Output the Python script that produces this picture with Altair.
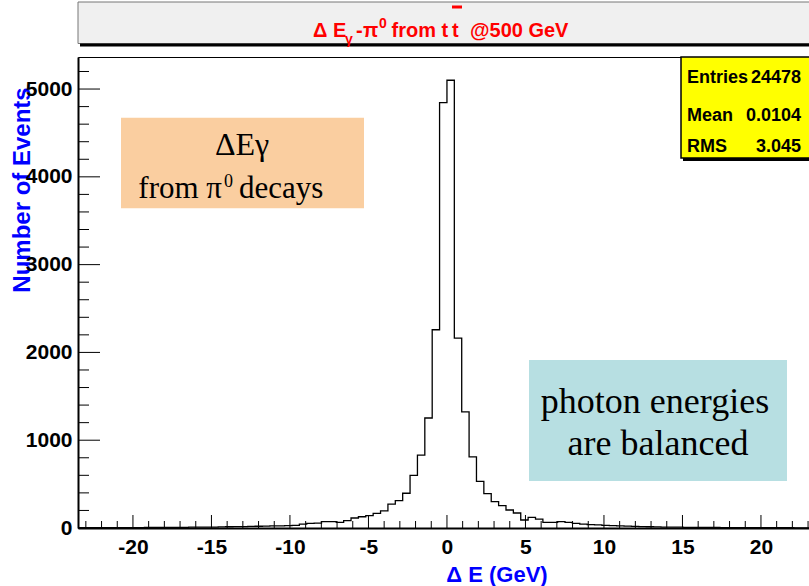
import altair as alt
import pandas as pd

# ---------------- data ----------------
x_range = [-23.5, 23.5]
n_bins = 100
counts_left = [3, 3, 3, 4, 4, 4, 5, 5, 5, 6, 6, 7, 7, 8, 8, 9, 10, 10, 11, 12, 14, 15, 16, 18, 20, 22, 24, 25,
               27, 30, 45, 53, 55, 72, 72, 64, 83, 114, 128, 140, 166, 195, 273, 311, 396, 600, 830, 1253, 2258, 4845]
counts_right = [5100, 2163, 1322, 810, 532, 392, 300, 254, 205, 171, 91, 121, 102, 64, 64, 72, 64, 53, 45, 38,
                36, 30, 27, 24, 21, 18, 16, 14, 12, 11, 10, 9, 8, 8, 7, 6, 6, 5, 5, 5, 4, 4, 4, 3, 3, 3, 3, 2, 2, 2]
counts = counts_left + counts_right

x_major_ticks = [-20, -15, -10, -5, 0, 5, 10, 15, 20]
x_minor_ticks = [v for v in range(-23, 24) if v % 5 != 0]
y_major_ticks = [0, 1000, 2000, 3000, 4000, 5000]
y_minor_ticks = [v for v in range(200, 5400, 200) if v % 1000 != 0]

stats_labels = ["Entries", "Mean", "RMS"]
stats_values = ["24478", "0.0104", "3.045"]

title_text = ["Δ E", "γ", "-", "π", "0", "from t", "t", "@500 GeV"]
x_title = "Δ E (GeV)"
y_title = "Number of Events"
note1 = ["ΔEγ", "from π", "0", "decays"]
note2 = ["photon energies", "are balanced"]

# ---------------- layout ----------------
W, H = 731, 471
PL, PT = 78, 57
X_DOMAIN = [-23.5, 23.06]
Y_DOMAIN = [0, 5365]
SANS = "Liberation Sans"
SERIF = "Liberation Serif"

bw = (x_range[1] - x_range[0]) / n_bins
edges = [x_range[0] + i * bw for i in range(n_bins + 1)]
hist_df = pd.DataFrame({"x": edges, "y": counts + [counts[-1]]})

xs = alt.Scale(domain=X_DOMAIN, nice=False, zero=False)
ys = alt.Scale(domain=Y_DOMAIN, nice=False, zero=False)

x_axis = alt.Axis(
    values=x_major_ticks, labelExpr="'' + datum.value", title=None, tickSize=0, grid=False,
    domainColor="black", domainWidth=2, labelFont=SANS, labelFontWeight="bold", labelFontSize=21,
    labelColor="black", labelPadding=8, labelFlush=False, labelOverlap=False, zindex=1)
y_axis = alt.Axis(
    values=y_major_ticks, labelExpr="'' + datum.value", title=None, tickSize=0, grid=False,
    domainColor="black", domainWidth=2, labelFont=SANS, labelFontWeight="bold", labelFontSize=21,
    labelColor="black", labelPadding=6, labelFlush=False, labelOverlap=False, zindex=1)

one = pd.DataFrame({"a": [0]})


def px(v):
    return alt.value(v)


hist = alt.Chart(hist_df).mark_line(
    interpolate="step-after", color="black", strokeWidth=1.3, clip=True
).encode(
    x=alt.X("x:Q", scale=xs, axis=x_axis),
    y=alt.Y("y:Q", scale=ys, axis=y_axis),
)

xmaj = alt.Chart(pd.DataFrame({"x": x_major_ticks})).mark_rule(color="black", strokeWidth=1).encode(
    x=alt.X("x:Q", scale=xs, axis=x_axis), y=px(H), y2=px(H - 13))
xmin = alt.Chart(pd.DataFrame({"x": x_minor_ticks})).mark_rule(color="black", strokeWidth=1).encode(
    x=alt.X("x:Q", scale=xs, axis=x_axis), y=px(H), y2=px(H - 7))
ymaj = alt.Chart(pd.DataFrame({"y": y_major_ticks})).mark_rule(color="black", strokeWidth=1).encode(
    y=alt.Y("y:Q", scale=ys, axis=y_axis), x=px(0), x2=px(22))
ymin = alt.Chart(pd.DataFrame({"y": y_minor_ticks})).mark_rule(color="black", strokeWidth=1).encode(
    y=alt.Y("y:Q", scale=ys, axis=y_axis), x=px(0), x2=px(11))

layers = []


def rect(x1, y1, x2, y2, fill, stroke=None, sw=0):
    kw = dict(fill=fill)
    if stroke:
        kw.update(stroke=stroke, strokeWidth=sw)
    return alt.Chart(one).mark_rect(**kw).encode(x=px(x1 - PL), x2=px(x2 - PL), y=px(y1 - PT), y2=px(y2 - PT))


def text(t, x, y, size, color="black", font=SANS, weight="bold", align="left", baseline="alphabetic", angle=0):
    kw = dict(text=t, fontSize=size, color=color, font=font, fontWeight=weight, align=align, baseline=baseline)
    if angle:
        kw["angle"] = angle
    return alt.Chart(one).mark_text(**kw).encode(x=px(x - PL), y=px(y - PT))


# axis titles (drawn first, below the tick labels)
layers += [
    text(y_title, 23, 190, 24, "#0000ff", align="center", baseline="middle", angle=270),
    text(x_title, 497, 575, 22, "#0000ff", align="center", baseline="middle"),
]

# annotation boxes
layers += [
    rect(121, 117.7, 364, 208.3, "#FACEA0"),
    text(note1[0], 242, 155, 32, font=SERIF, weight="normal", align="center"),
    text(note1[1], 222, 198, 31, font=SERIF, weight="normal", align="right"),
    text(note1[2], 224, 187, 18, font=SERIF, weight="normal", align="left"),
    text(note1[3], 239, 198, 31, font=SERIF, weight="normal", align="left"),
    rect(529, 360, 787, 481, "#B7DFE2"),
    text(note2[0], 655, 413, 36, font=SERIF, weight="normal", align="center"),
    text(note2[1], 658, 455, 36, font=SERIF, weight="normal", align="center"),
]

layers += [hist, xmaj, xmin, ymaj, ymin]

# title pave
RED = "#ff0000"
layers += [
    rect(78, 2, 815, 43.5, "#f0f0f0", "#777777", 1),
    rect(80, 43.5, 815, 46.5, "black"),
    text(title_text[0], 313, 37, 20, RED),
    text(title_text[1], 345, 44, 14, RED),
    text(title_text[2], 356, 37, 20, RED),
    text(title_text[3], 363, 37, 20, RED),
    text(title_text[4], 379, 28, 14, RED),
    text(title_text[5], 391.5, 37, 20, RED),
    text(title_text[6], 452, 37, 20, RED),
    rect(452, 5.5, 462, 8.5, RED),
    text(title_text[7], 470, 37, 20, RED),
]

# stats box
layers += [
    rect(681, 57, 815, 158, "#ffff00", "black", 1.5),
    rect(683, 158, 815, 161, "black"),
]
for i, (lab, val) in enumerate(zip(stats_labels, stats_values)):
    yb = [82.5, 121, 152][i]
    layers.append(text(lab, 687, yb, 18))
    layers.append(text(val, 801, yb, 18, align="right"))

chart = alt.layer(*layers).properties(
    width=W, height=H,
    autosize=alt.AutoSizeParams(type="none"),
    padding={"left": PL, "top": PT, "right": 0, "bottom": 586 - PT - H},
    background="white",
).configure_view(stroke="black", strokeWidth=1)

chart.save("out.html", embed_options={"renderer": "svg", "actions": False})
